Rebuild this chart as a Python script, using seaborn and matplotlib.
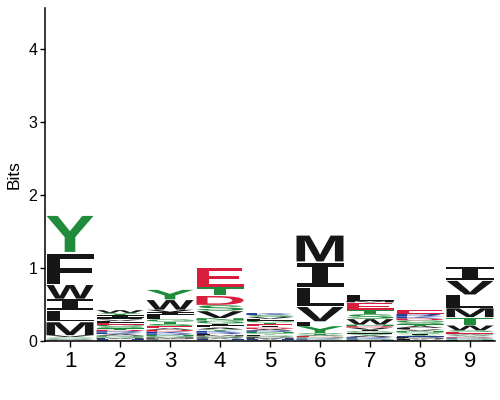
import seaborn as sns
from matplotlib import pyplot as plt
from matplotlib.font_manager import FontProperties
from matplotlib.patches import PathPatch
from matplotlib.textpath import TextPath
from matplotlib.transforms import Affine2D

# stacks listed bottom -> top, heights in bits
positions = [1, 2, 3, 4, 5, 6, 7, 8, 9]

letters_p1 = "DEKNPQRAHCGSTVMLIWFY"
bits_p1 = [.003, .003, .003, .003, .003, .003, .003, .005, .005, .005, .006, .006, .007, .025,
           .19, .15, .16, .20, .44, .53]

letters_p2 = "PCHMQNAKRDTSGELVFIYW"
bits_p2 = [.01, .01, .01, .015, .015, .015, .02, .02, .02, .02, .02, .025, .025, .025, .025, .02,
           .03, .03, .03, .04]

letters_p3 = "CHPMQNRKDAESTGLFIVWY"
bits_p3 = [.01, .01, .015, .015, .015, .02, .02, .025, .025, .02, .03, .03, .03, .035, .03, .03,
           .035, .035, .14, .14]

letters_p4 = "CHWPQMFRKYALIGNVSDTE"
bits_p4 = [.01, .015, .01, .015, .015, .015, .015, .02, .025, .02, .025, .025, .03, .04, .035,
           .10, .08, .13, .12, .27]

letters_p5 = "CWHMPQFYNRADIETGLVSK"
bits_p5 = [.01, .01, .01, .015, .015, .015, .015, .015, .02, .02, .02, .02, .02, .025, .025, .025,
           .025, .025, .025, .03]

letters_p6 = "CWHPKRQNDEAGTSYFVLIM"
bits_p6 = [.005, .005, .005, .005, .008, .008, .008, .008, .008, .008, .01, .01, .01, .012,
           .10, .06, .21, .26, .35, .38]

letters_p7 = "CHPQKRAYFGIVDNWSTEML"
bits_p7 = [.005, .008, .008, .01, .012, .012, .02, .02, .02, .02, .02, .03, .02, .02,
           .08, .065, .06, .10, .02, .085]

letters_p8 = "CWFMPHYIQNVLATSGDKRE"
bits_p8 = [.01, .01, .01, .01, .015, .015, .015, .015, .02, .02, .02, .02, .025, .025, .025, .03,
           .025, .03, .035, .05]

letters_p9 = "CHPQNKRDYFAGESWTMLVI"
bits_p9 = [.005, .005, .005, .008, .008, .008, .008, .008, .01, .01, .012, .015, .025, .02,
           .07, .11, .13, .18, .20, .19]

stack_letters = [letters_p1, letters_p2, letters_p3, letters_p4, letters_p5,
                 letters_p6, letters_p7, letters_p8, letters_p9]
stack_bits = [bits_p1, bits_p2, bits_p3, bits_p4, bits_p5,
              bits_p6, bits_p7, bits_p8, bits_p9]

# chemistry colours
colors = {}
for aa in "AVLIPWFM":
    colors[aa] = "#161616"
for aa in "GSTYCNQ":
    colors[aa] = "#1f8c3b"
for aa in "KRH":
    colors[aa] = "#22409a"
for aa in "DE":
    colors[aa] = "#d81e3c"

sns.set_style("ticks", {"axes.edgecolor": "black", "xtick.color": "black",
                        "ytick.color": "black", "text.color": "black",
                        "axes.labelcolor": "black"})
plt.rcParams["font.family"] = ["Liberation Sans", "DejaVu Sans"]

fp = FontProperties(family="Liberation Sans", weight="bold")
fp_serif_i = FontProperties(family="DejaVu Sans Mono", weight="bold")


def draw_letter(ax, ch, x, y, h, color, w=0.94, fill=0.93):
    prop = fp_serif_i if ch == "I" else fp
    tp = TextPath((0, 0), ch, size=1, prop=prop)
    bb = tp.get_extents()
    t = Affine2D().translate(-bb.x0, -bb.y0).scale(w / bb.width, h * fill / bb.height)
    t = t.translate(x - w / 2, y)
    ax.add_patch(PathPatch(t.transform_path(tp), fc=color, ec="none", lw=0))


fig = plt.figure(figsize=(5, 4), dpi=100)
ax = fig.add_axes([0.09, 0.1475, 0.9, 0.8325])

for pos, letters, bits in zip(positions, stack_letters, stack_bits):
    y = 0
    for ch, h in zip(letters, bits):
        draw_letter(ax, ch, pos, y, h, colors[ch])
        y += h

ax.set_xlim(0.5, 9.5)
ax.set_ylim(0, 4.56)
ax.set_xticks(positions)
ax.set_xticklabels([str(p) for p in positions], fontsize=16)
ax.set_yticks([0, 1, 2, 3, 4])
ax.tick_params(axis="y", labelsize=11.5, length=3.5, width=1, pad=2)
ax.tick_params(axis="x", length=4, width=1, pad=3)
ax.set_ylabel("Bits", fontsize=12.5, labelpad=5)
for s in ["left", "bottom"]:
    ax.spines[s].set_linewidth(1.1)
sns.despine(ax=ax)

fig.savefig("out.png", dpi=100)
